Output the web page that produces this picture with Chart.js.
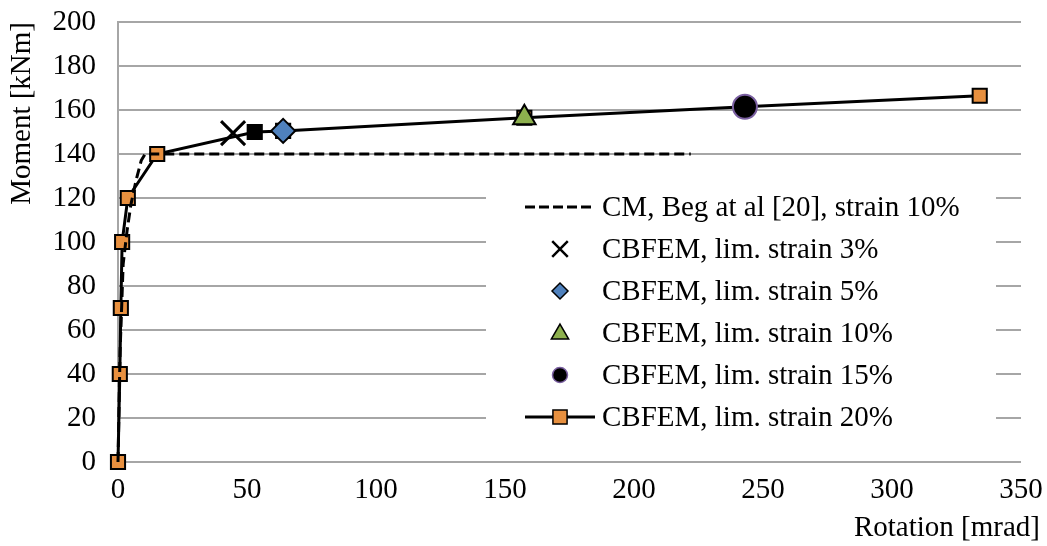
<!DOCTYPE html>
<html><head><meta charset="utf-8">
<script src="https://cdn.jsdelivr.net/npm/chart.js@4.4.0/dist/chart.umd.min.js"></script>
<style>html,body{margin:0;padding:0;background:#fff;}</style>
</head><body>
<canvas id="c" width="1047" height="546"></canvas>
<script>
// ---- data ----
const xTickValues = [0, 50, 100, 150, 200, 250, 300, 350];
const yTickValues = [0, 20, 40, 60, 80, 100, 120, 140, 160, 180, 200];

const cmRotation = [0, 0.8, 2, 3.5, 5, 7, 9, 10.5, 222];
const cmMoment   = [0, 50, 90, 105, 117, 128, 137, 140, 140];

const s3Rotation = [44.6];  const s3Moment = [149.5];
const s5Rotation = [64];    const s5Moment = [150.5];
const s10Rotation = [157.5]; const s10Moment = [156.5];
const s15Rotation = [243];  const s15Moment = [161.5];

const s20Rotation = [0, 0.7, 1.1, 1.6, 3.8, 15.2, 53, 64, 157.5, 243, 334];
const s20Moment   = [0, 40, 70, 100, 120, 140, 150, 150.5, 156.5, 161.5, 166.5];

const seriesLabels = [
  'CM, Beg at al [20], strain 10%',
  'CBFEM, lim. strain 3%',
  'CBFEM, lim. strain 5%',
  'CBFEM, lim. strain 10%',
  'CBFEM, lim. strain 15%',
  'CBFEM, lim. strain 20%'
];

const pts = (xs, ys) => xs.map((x, i) => ({x: x, y: ys[i]}));
const FONT = 'Liberation Serif, Times New Roman, serif';
const FSIZE = 29;
const ORANGE = '#E8903F';

const s20Fill = s20Rotation.map((x, i) => i === 6 ? '#000000' : ORANGE);

const datasets = [
  {label: seriesLabels[0], data: pts(cmRotation, cmMoment), borderColor: '#000', borderWidth: 3,
   borderDash: [10, 5], pointRadius: 0, showLine: true, fill: false, clip: false, tension: 0},
  {label: seriesLabels[1], data: pts(s3Rotation, s3Moment), pointStyle: 'crossRot', pointRadius: 17,
   borderColor: '#000', pointBorderWidth: 3, showLine: false, clip: false},
  {label: seriesLabels[2], data: pts(s5Rotation, s5Moment), pointStyle: 'rectRot', pointRadius: 12,
   backgroundColor: '#4F81BD', borderColor: '#000', pointBorderWidth: 2, showLine: false, clip: false},
  {label: seriesLabels[3], data: pts(s10Rotation, s10Moment), pointStyle: 'triangle', pointRadius: 13,
   backgroundColor: '#8DB04E', borderColor: '#000', pointBorderWidth: 2, showLine: false, clip: false},
  {label: seriesLabels[4], data: pts(s15Rotation, s15Moment), pointStyle: 'circle', pointRadius: 12,
   backgroundColor: '#000', borderColor: '#7A5FA0', pointBorderWidth: 2, showLine: false, clip: false},
  {label: seriesLabels[5], data: pts(s20Rotation, s20Moment), borderColor: '#000', borderWidth: 3,
   pointStyle: 'rect', pointRadius: 10, pointBackgroundColor: s20Fill, pointBorderColor: '#000',
   pointBorderWidth: 2, showLine: true, fill: false, clip: false, tension: 0}
];

function drawMarker(ctx, style, x, y, r, fill, stroke, lw) {
  ctx.save();
  ctx.beginPath();
  ctx.lineWidth = lw; ctx.strokeStyle = stroke; ctx.fillStyle = fill;
  if (style === 'crossRot') {
    const d = r * Math.SQRT1_2;
    ctx.moveTo(x - d, y - d); ctx.lineTo(x + d, y + d);
    ctx.moveTo(x + d, y - d); ctx.lineTo(x - d, y + d);
    ctx.stroke();
  } else if (style === 'rectRot') {
    ctx.moveTo(x - r, y); ctx.lineTo(x, y - r); ctx.lineTo(x + r, y); ctx.lineTo(x, y + r);
    ctx.closePath(); ctx.fill(); ctx.stroke();
  } else if (style === 'triangle') {
    ctx.moveTo(x, y - r);
    ctx.lineTo(x + r * 0.866, y + r / 2);
    ctx.lineTo(x - r * 0.866, y + r / 2);
    ctx.closePath(); ctx.fill(); ctx.stroke();
  } else if (style === 'circle') {
    ctx.arc(x, y, r, 0, Math.PI * 2); ctx.fill(); ctx.stroke();
  } else if (style === 'rect') {
    const s = r * Math.SQRT1_2;
    ctx.rect(x - s, y - s, 2 * s, 2 * s); ctx.fill(); ctx.stroke();
  }
  ctx.restore();
}

const legendPlugin = {
  id: 'innerLegend',
  afterLayout(chart) {
    // let the x-axis title run past the plot edge as in the reference
    const xs = chart.scales.x;
    xs.right = xs.right + 19;
  },
  afterDraw(chart) {
    const ctx = chart.ctx;
    const ds = chart.data.datasets;
    ctx.save();
    ctx.fillStyle = '#fff';
    ctx.fillRect(486, 186, 510, 254);
    const rowY = [207, 249, 291, 333, 375, 417];
    const lineX0 = 525, lineX1 = 595, mx = 560, tx = 602;
    ctx.font = FSIZE + 'px ' + FONT;
    ctx.textBaseline = 'middle';
    ctx.textAlign = 'left';
    for (let i = 0; i < ds.length; i++) {
      const y = rowY[i];
      const d = ds[i];
      if (i === 0 || i === 5) {
        ctx.save();
        ctx.beginPath();
        ctx.lineWidth = 3; ctx.strokeStyle = '#000';
        if (i === 0) ctx.setLineDash([10, 4]);
        ctx.moveTo(lineX0, y); ctx.lineTo(lineX1, y); ctx.stroke();
        ctx.restore();
      }
      if (i === 1) drawMarker(ctx, 'crossRot', mx, y, 11, '#000', '#000', 2.5);
      if (i === 2) drawMarker(ctx, 'rectRot', mx, y, 8, '#4F81BD', '#000', 1.5);
      if (i === 3) drawMarker(ctx, 'triangle', mx, y + 1, 10, '#8DB04E', '#000', 1.5);
      if (i === 4) drawMarker(ctx, 'circle', mx, y, 7.5, '#000', '#7A5FA0', 1.5);
      if (i === 5) drawMarker(ctx, 'rect', mx, y, 10, ORANGE, '#000', 1.5);
      ctx.fillStyle = '#000';
      ctx.fillText(d.label, tx, y + 1);
    }
    ctx.restore();
  }
};

new Chart(document.getElementById('c'), {
  type: 'scatter',
  data: {datasets: datasets},
  plugins: [legendPlugin],
  options: {
    responsive: false,
    animation: false,
    layout: {padding: {top: 22, right: 26, left: 0, bottom: 0}},
    plugins: {legend: {display: false}, tooltip: {enabled: false}, title: {display: false}},
    scales: {
      x: {
        type: 'linear', min: 0, max: 350,
        afterBuildTicks: (s) => { s.ticks = xTickValues.map(v => ({value: v})); },
        afterFit: (s) => { s.height = 84; s.paddingLeft = 0; s.paddingRight = 0; },
        grid: {display: false, drawTicks: false},
        border: {display: false},
        ticks: {color: '#000', font: {family: FONT, size: FSIZE}, padding: 11},
        title: {display: true, text: 'Rotation [mrad]', align: 'end', color: '#000',
                font: {family: FONT, size: FSIZE}, padding: {top: 0, bottom: 0}}
      },
      y: {
        type: 'linear', min: 0, max: 200,
        afterBuildTicks: (s) => { s.ticks = yTickValues.map(v => ({value: v})); },
        afterFit: (s) => { s.width = 118; s.paddingTop = 0; s.paddingBottom = 0; },
        grid: {color: '#A6A6A6', lineWidth: 2, drawTicks: false},
        border: {display: true, color: '#A6A6A6', width: 2},
        ticks: {color: '#000', font: {family: FONT, size: FSIZE}, padding: 22},
        title: {display: true, text: 'Moment [kNm]', align: 'end', color: '#000',
                font: {family: FONT, size: FSIZE}, padding: {top: 5, bottom: 0}}
      }
    }
  }
});
</script>
</body></html>
